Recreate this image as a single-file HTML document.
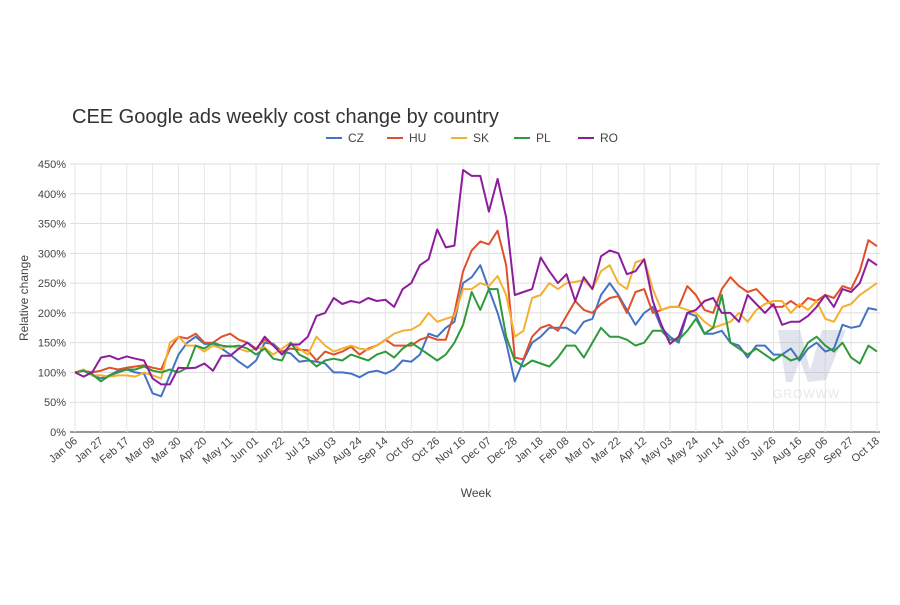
<!DOCTYPE html>
<html><head><meta charset="utf-8"><style>
body{margin:0;background:#fff;font-family:"Liberation Sans",sans-serif;}
</style></head><body>
<svg width="900" height="600" xmlns="http://www.w3.org/2000/svg" id="chart" font-family="Liberation Sans, sans-serif">
<text x="72" y="123" font-size="20" fill="#333">CEE Google ads weekly cost change by country</text>
<g id="legend"></g>
<g id="grid"></g>
<g id="wm" opacity="0.35">
<polygon points="778,330 800,330 810,370 822,330 846,330 826,380 808,382 800,360 792,382 786,382" fill="#a9b3c9"/>
<text x="773" y="398" font-size="12" fill="#bbb" letter-spacing="1">GROWWW</text>
</g>
<g id="series"></g>
<text x="28" y="298" font-size="12" fill="#444" transform="rotate(-90 28 298)" text-anchor="middle">Relative change</text>
<text x="476" y="497" font-size="12" fill="#444" text-anchor="middle">Week</text>
</svg>
<script>
const xLabels=["Jan 06","Jan 27","Feb 17","Mar 09","Mar 30","Apr 20","May 11","Jun 01","Jun 22","Jul 13","Aug 03","Aug 24","Sep 14","Oct 05","Oct 26","Nov 16","Dec 07","Dec 28","Jan 18","Feb 08","Mar 01","Mar 22","Apr 12","May 03","May 24","Jun 14","Jul 05","Jul 26","Aug 16","Sep 06","Sep 27","Oct 18"];
const yTicks=[0,50,100,150,200,250,300,350,400,450];
const seriesNames=["CZ","HU","SK","PL","RO"];
const seriesColors=["#4472c4","#e0502a","#f4b030","#2e9a3a","#8e1d9e"];
const CZ=[100,103,95,90,95,103,105,100,98,65,60,95,130,150,160,148,148,140,130,118,108,120,150,148,135,132,118,120,118,115,100,100,98,92,100,103,98,105,120,118,130,165,160,175,185,250,260,280,240,200,150,85,120,150,160,175,175,175,165,185,190,230,250,230,205,180,200,210,175,160,150,200,195,165,165,170,150,145,125,145,145,130,130,140,120,140,150,135,140,180,175,178,208,205];
const HU=[100,103,100,103,108,105,108,110,112,108,105,140,160,157,165,150,150,160,165,155,150,140,155,145,135,140,138,137,120,135,130,135,143,130,140,145,155,145,145,145,155,160,155,155,200,270,305,320,315,338,280,125,122,160,175,180,170,195,220,205,200,215,225,228,200,235,240,200,205,210,210,245,230,205,200,240,260,245,235,240,225,210,210,220,210,225,220,230,225,245,240,270,322,312];
const SK=[100,105,95,95,93,95,95,93,100,95,90,150,160,145,145,135,145,140,145,140,135,140,142,130,140,150,140,130,160,145,135,140,145,140,138,145,155,165,170,172,180,200,185,190,195,240,240,250,245,262,230,160,170,225,230,250,240,250,252,255,240,270,280,250,240,285,290,240,205,210,210,205,200,185,175,180,185,200,185,205,215,220,220,200,215,205,220,190,185,210,215,230,240,250];
const PL=[100,103,97,85,95,100,105,105,110,103,100,105,100,108,145,140,150,145,143,145,140,130,140,123,120,150,130,123,110,120,123,120,130,125,120,130,135,125,140,150,140,130,120,130,150,180,235,205,240,240,160,120,110,120,115,110,125,145,145,125,150,175,160,160,155,145,150,170,170,155,155,170,190,165,175,230,150,140,130,140,130,120,130,120,125,150,160,145,135,150,125,115,145,135];
const RO=[100,93,100,125,128,122,127,123,120,90,80,80,108,107,108,115,103,128,128,140,150,138,160,145,130,147,147,160,195,200,225,215,220,217,225,220,222,210,240,250,280,290,340,310,313,440,430,430,370,425,360,230,235,240,293,270,250,265,220,260,240,295,305,300,265,270,290,220,180,148,160,200,205,220,225,200,200,185,230,215,200,215,180,185,185,195,210,230,210,240,235,250,290,280];
const allSeries=[CZ,HU,SK,PL,RO];
const NS="http://www.w3.org/2000/svg";
const X0=75,X1=877,Y0=432,Y450=164;
const nPts=CZ.length;
function xs(i){return X0+i*(X1-X0)/(nPts-1);}
function ys(v){return Y0-v*(Y0-Y450)/450;}
function mk(tag,attrs,parent){const e=document.createElementNS(NS,tag);for(const k in attrs)e.setAttribute(k,attrs[k]);parent.appendChild(e);return e;}
const grid=document.getElementById('grid');
yTicks.forEach(t=>{
  const l=mk('line',{x1:70,x2:880,y1:ys(t),y2:ys(t),stroke:t===0?'#333':'#ddd','stroke-width':1},grid);
  
  
  const tx=mk('text',{x:66,y:ys(t)+4,'font-size':11,fill:'#444','text-anchor':'end'},grid);
  tx.textContent=t+'%';
  
  
});
xLabels.forEach((lab,k)=>{
  const x=xs(k*3);
  const l=mk('line',{x1:x,x2:x,y1:Y450,y2:Y0,stroke:'#e6e6e6','stroke-width':1},grid);
  
  
  const tx=mk('text',{x:x+3,y:Y0+10,'font-size':11,fill:'#444','text-anchor':'end',transform:`rotate(-40 ${x+3} ${Y0+10})`},grid);
  tx.textContent=lab;
  
  
});
const sg=document.getElementById('series');
allSeries.forEach((s,si)=>{
  const d=s.map((v,i)=>(i?'L':'M')+xs(i).toFixed(1)+','+ys(v).toFixed(1)).join('');
  const p=mk('path',{d:d,fill:'none',stroke:seriesColors[si],'stroke-width':2,'stroke-linejoin':'round'},sg);
  
  
});
const lg=document.getElementById('legend');
const lx=[326,387,451,514,578];
seriesNames.forEach((n,i)=>{
  const g=mk('g',{},lg);
  
  
  mk('line',{x1:lx[i],x2:lx[i]+16,y1:138,y2:138,stroke:seriesColors[i],'stroke-width':2},g);
  const t=mk('text',{x:lx[i]+22,y:142,'font-size':12,fill:'#444'},g);
  t.textContent=n;
});
</script>
</body></html>
